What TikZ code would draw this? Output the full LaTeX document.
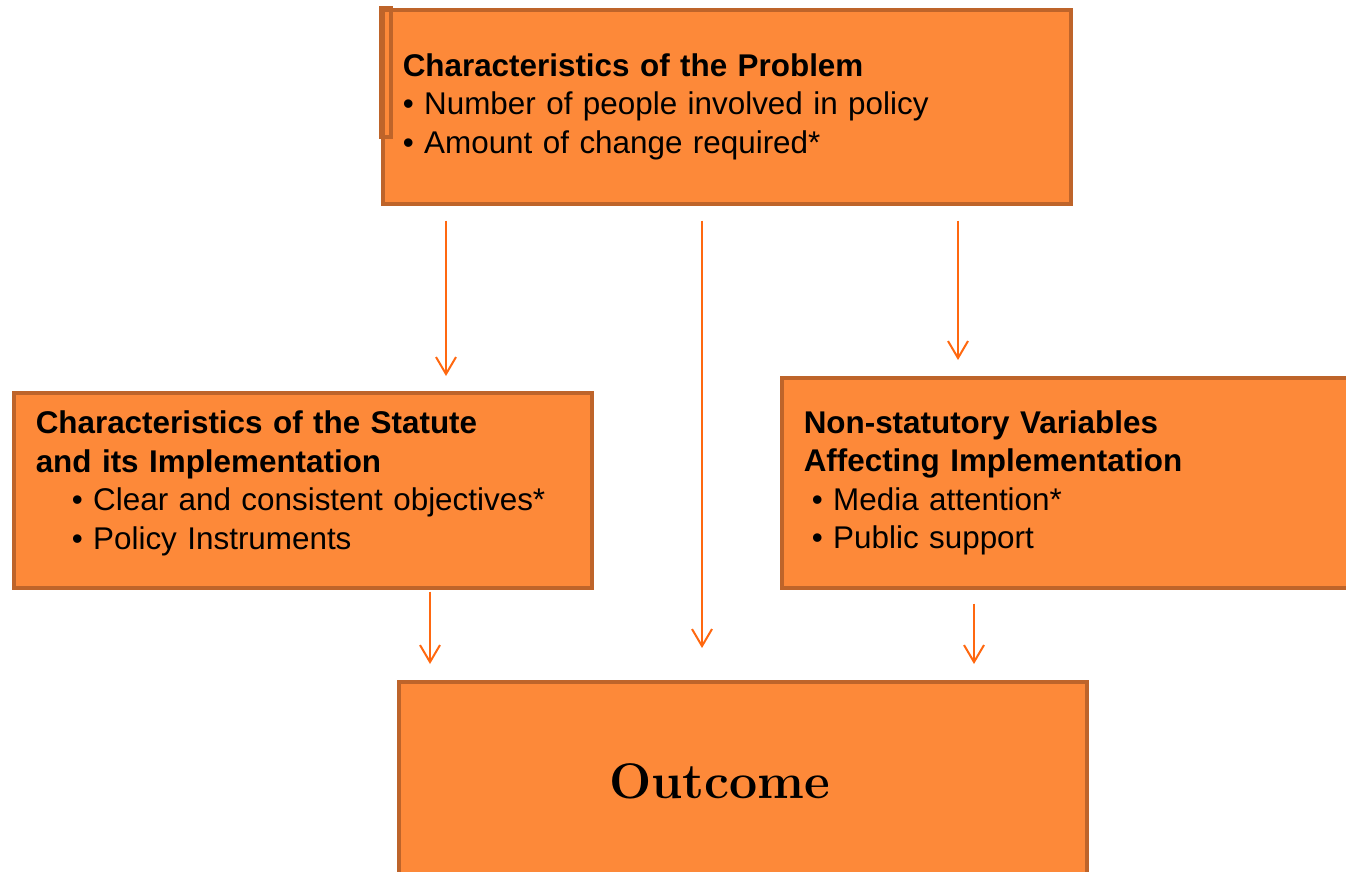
\documentclass[tikz,border=0pt]{standalone}
\usepackage{fontspec}
\usepackage{tikz}
\usetikzlibrary{arrows.meta, calc}
\newfontfamily\arial{Liberation Sans}
\definecolor{boxfill}{RGB}{253,137,57}
\definecolor{boxline}{RGB}{190,100,42}
\definecolor{arrline}{RGB}{255,104,16}

\begin{document}
\begin{tikzpicture}[x=1pt, y=1pt,
  box/.style={draw=boxline, fill=boxfill, line width=3.5pt, anchor=north west,
    align=left, font=\arial\fontsize{31.4}{38.5}\selectfont, inner ysep=0pt},
  arr/.style={draw=arrline, line width=2pt, -{Straight Barb[length=17pt, width=20pt, line width=2pt]}}]
  \useasboundingbox (0,0) rectangle (1346,-871);

  % the four boxes
  \node[box, minimum width=688, minimum height=194, inner xsep=20pt, text width=648pt]
    (prob) at (381,-8) {\textbf{Characteristics of the Problem}\\
      \textbullet\ Number of people involved in policy\\
      \textbullet\ Amount of change required*};
  \draw[boxline, line width=3.5pt] (prob.north west) rectangle ($(prob.north west)+(10,-129)$);

  \node[box, minimum width=578, minimum height=195, inner xsep=22pt, text width=534pt]
    (stat) at (12,-391) {\textbf{Characteristics of the Statute}\\
      \textbf{and its Implementation}\\
      \hspace*{36pt}\textbullet\ Clear and consistent objectives*\\
      \hspace*{36pt}\textbullet\ Policy Instruments\rule[-20pt]{0pt}{1pt}};

  \node[box, minimum width=600, minimum height=210, inner xsep=22pt, text width=556pt]
    (nonstat) at (780,-376) {\textbf{Non-statutory Variables}\\
      \textbf{Affecting Implementation}\\
      \hspace*{8pt}\textbullet\ Media attention*\\
      \hspace*{8pt}\textbullet\ Public support};

  \node[box, minimum width=688, minimum height=200, inner xsep=0pt, text width=688pt,
    align=center, font=\fontsize{50}{58}\selectfont\bfseries]
    (outc) at (397,-680) {\hspace*{-46pt}Outcome};

  % arrows
  \draw[arr] ($(prob.south west)+(65,-15)$) -- ($(stat.north west)+(434,15)$);
  \draw[arr] ($(prob.south west)+(321,-15)$) -- ($(outc.north west)+(305,32)$);
  \draw[arr] ($(prob.south west)+(577,-15)$) -- ($(nonstat.north west)+(178,16)$);
  \draw[arr] ($(stat.south west)+(418,-2)$) -- ($(outc.north west)+(33,16)$);
  \draw[arr] ($(nonstat.south west)+(194,-14)$) -- ($(outc.north west)+(577,16)$);
\end{tikzpicture}
\end{document}
